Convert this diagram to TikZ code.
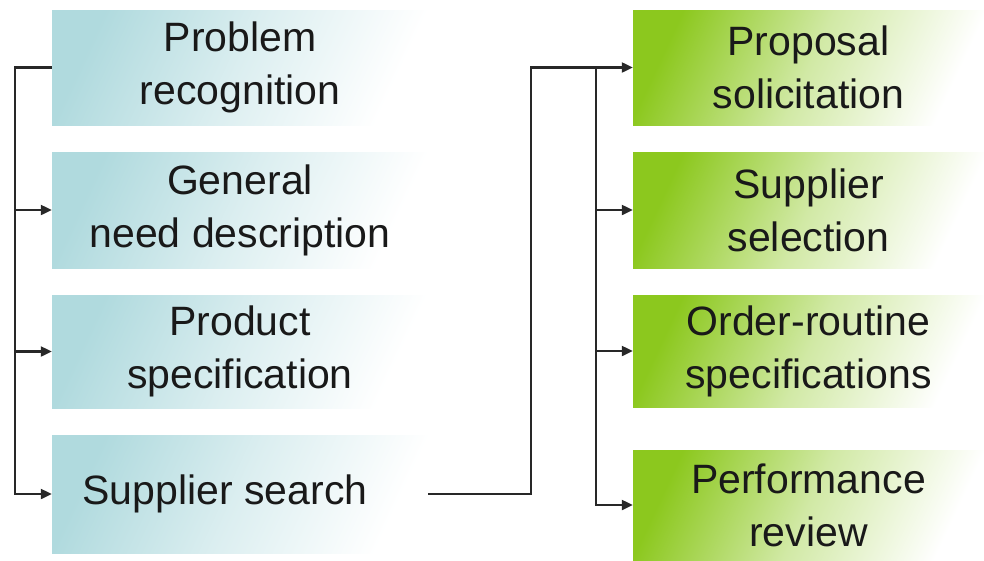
\documentclass[tikz,border=0pt]{standalone}
\usepackage{fontspec}
\setmainfont{Liberation Sans}
\usetikzlibrary{arrows.meta}
\definecolor{tealc}{RGB}{176,218,222}
\definecolor{greenc}{RGB}{140,200,30}
\definecolor{linec}{RGB}{40,40,40}
\tikzset{
  box/.style={rectangle, inner sep=0pt, align=center, text=black!90,
    font=\fontsize{41}{53}\selectfont},
  lbox/.style={box, minimum width=376pt, top color=tealc, bottom color=white,
    middle color=tealc!45!white, shading angle=65},
  rbox/.style={box, minimum width=351pt, top color=greenc, bottom color=white,
    middle color=greenc!40!white, shading angle=65},
  conn/.style={draw=linec, line width=2.2pt},
  arr/.style={conn, -{Triangle[length=11pt,width=10pt]}},
}
\begin{document}
\begin{tikzpicture}[x=1pt,y=-1pt]
\useasboundingbox (0,0) rectangle (984,560);
% left column
\node[lbox, minimum height=115pt] (L1) at (240,67.5) {Problem\\recognition};
\node[lbox, minimum height=116pt] (L2) at (240,210) {General\\need description};
\node[lbox, minimum height=113pt] (L3) at (240,351.5) {Product\\specification};
\node[lbox, minimum height=118pt] (L4) at (240,494) {Supplier search\hspace*{30pt}};
% right column
\node[rbox, minimum height=115pt] (R1) at (808.5,67.5) {Proposal\\solicitation};
\node[rbox, minimum height=116pt] (R2) at (808.5,210) {Supplier\\selection};
\node[rbox, minimum height=112pt] (R3) at (808.5,351) {Order-routine\\specifications};
\node[rbox, minimum height=110pt] (R4) at (808.5,505) {Performance\\review};
% connector coordinates
\coordinate (lx) at (15,0);
\coordinate (mx) at (531,0);
\coordinate (rx) at (596,0);
% left connectors
\draw[arr] (L1.west) -- (lx |- L1.west) |- (L4.west);
\draw[arr] (lx |- L2.west) -- (L2.west);
\draw[arr] (lx |- L3.west) -- (L3.west);
% middle connector
\draw[arr] (L4.east) -- (mx |- L4.east) |- (R1.west);
% right connectors
\draw[arr] (rx |- R1.west) |- (R4.west);
\draw[arr] (rx |- R2.west) -- (R2.west);
\draw[arr] (rx |- R3.west) -- (R3.west);
\end{tikzpicture}
\end{document}
